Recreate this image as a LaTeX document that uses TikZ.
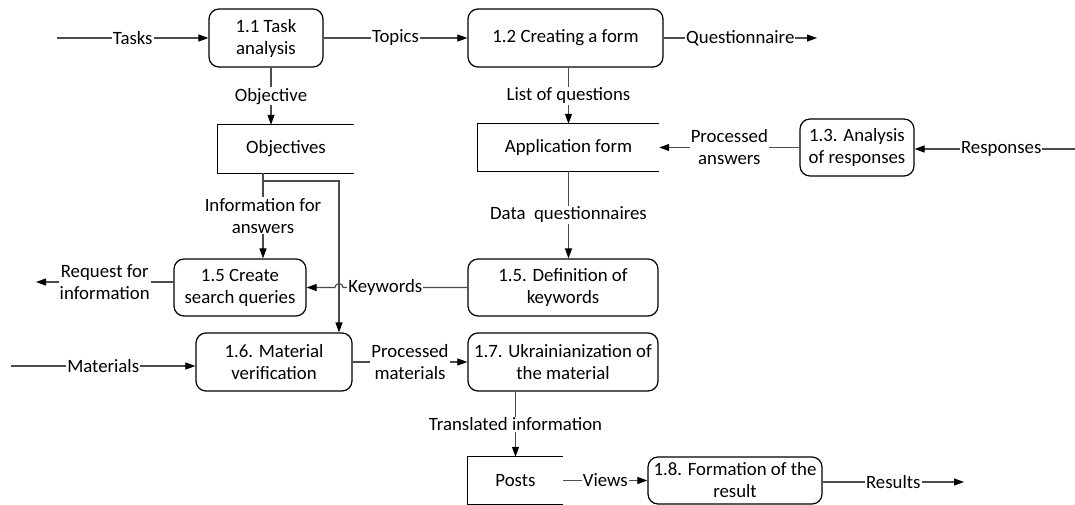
\documentclass[tikz,border=0pt]{standalone}
\usepackage{fontspec}
\setmainfont{Carlito}
\usetikzlibrary{arrows.meta}
\tikzset{
  proc/.style={draw, line width=1.2pt, rounded corners=10pt, align=center, inner sep=0pt},
  store/.style={inner sep=0pt, align=center},
  flow/.style={draw=black!70, line width=1.1pt, -{Triangle[length=10pt,width=7pt,color=black]}},
  lbl/.style={fill=white, inner sep=1pt, align=center, text=black},
}

\begin{document}
\begin{tikzpicture}[x=1pt, y=-1pt, font=\fontsize{18.8}{22}\selectfont]
  %%%%% START %%%%%
  \useasboundingbox (0, 0) rectangle (1075, 505);

  % processes
  \node[proc, minimum width=114pt, minimum height=58pt] (task) at (266, 38) {1.1 Task\\analysis};
  \node[proc, minimum width=195pt, minimum height=58pt] (form) at (565.5, 38) {1.2 Creating a form};
  \node[proc, minimum width=114pt, minimum height=57pt] (analysis) at (857, 147.5) {1.3. Analysis\\of responses};
  \node[proc, minimum width=132pt, minimum height=57pt] (create) at (240, 287.5) {1.5 Create\\search queries};
  \node[proc, minimum width=190pt, minimum height=57pt] (defkw) at (563, 287.5) {1.5. Definition of\\keywords};
  \node[proc, minimum width=156pt, minimum height=58pt] (verif) at (274, 362) {1.6. Material\\verification};
  \node[proc, minimum width=190pt, minimum height=58pt] (ukr) at (563, 362) {1.7. Ukrainianization of\\the material};
  \node[proc, minimum width=174pt, minimum height=47pt] (result) at (735, 480.5) {1.8. Formation of the\\result};

  % stores
  \node[store, minimum width=136pt, minimum height=48pt] (objs) at (286, 149) {Objectives};
  \node[store, minimum width=181pt, minimum height=47pt] (appf) at (568.5, 147.5) {Application form};
  \node[store, minimum width=95pt, minimum height=47pt] (posts) at (515.5, 480.5) {Posts};
  \draw[line width=1.2pt] (objs.north east) -- (objs.north west) -- (objs.south west) -- (objs.south east);
  \draw[line width=1.2pt] (appf.north east) -- (appf.north west) -- (appf.south west) -- (appf.south east);
  \draw[line width=1.2pt] (posts.north east) -- (posts.north west) -- (posts.south west) -- (posts.south east);

  % free ends
  \coordinate (tasksin) at (57, 38);
  \coordinate (quest) at (817, 38);
  \coordinate (respin) at (1075, 149);
  \coordinate (request) at (36, 282);
  \coordinate (matin) at (11, 366);
  \coordinate (resout) at (964, 482);
  \coordinate (split) at (263, 181);
  \coordinate (bend) at (339, 181);

  % flows
  \draw[flow] (tasksin) -- (tasksin -| task.west) node[lbl, midway] {Tasks};
  \draw[flow] (task.east) -- (form.west) node[lbl, midway] {Topics};
  \draw[flow] (form.east) -- (quest) node[lbl, midway] {Questionnaire};
  \draw[flow] ([xshift=5pt]task.south) -- ([xshift=5pt]task.south |- objs.north) node[lbl, midway] {Objective};
  \draw[flow] (form.south -| appf) -- (appf.north) node[lbl, midway] {List of questions};
  \draw[flow] (respin) -- (respin -| analysis.east) node[lbl, pos=0.46] {Responses};
  \draw[flow] (analysis.west) -- (appf.east) node[lbl, midway] {Processed\\answers};
  \draw[flow] (appf.south) -- (appf.south |- defkw.north) node[lbl, midway] {Data\ \ questionnaires};
  \draw[flow] (objs.south -| split) -- (create.north -| split) node[lbl, midway] {Information for\\answers};
  \draw[flow] (split) -- (bend) -- (bend |- verif.north);
  \path (bend |- defkw.west) ++(4, 0) coordinate (hop);
  \draw[flow] (defkw.west) -- (hop) node[lbl, pos=0.66] {Keywords}
    arc[start angle=0, end angle=180, radius=4pt] -- (create.east);
  \draw[flow] (create.west |- request) -- (request) node[lbl, midway] {Request for\\information};
  \draw[flow] (matin) -- (matin -| verif.west) node[lbl, midway] {Materials};
  \draw[flow] (verif.east) -- (ukr.west) node[lbl, midway] {Processed\\materials};
  \draw[flow] (posts.north |- ukr.south) -- (posts.north) node[lbl, midway] {Translated information};
  \draw[flow] (posts.east) -- (result.west) node[lbl, midway] {Views};
  \draw[flow] (result.east |- resout) -- (resout) node[lbl, midway] {Results};
  %%%%% END %%%%%
\end{tikzpicture}
\end{document}
